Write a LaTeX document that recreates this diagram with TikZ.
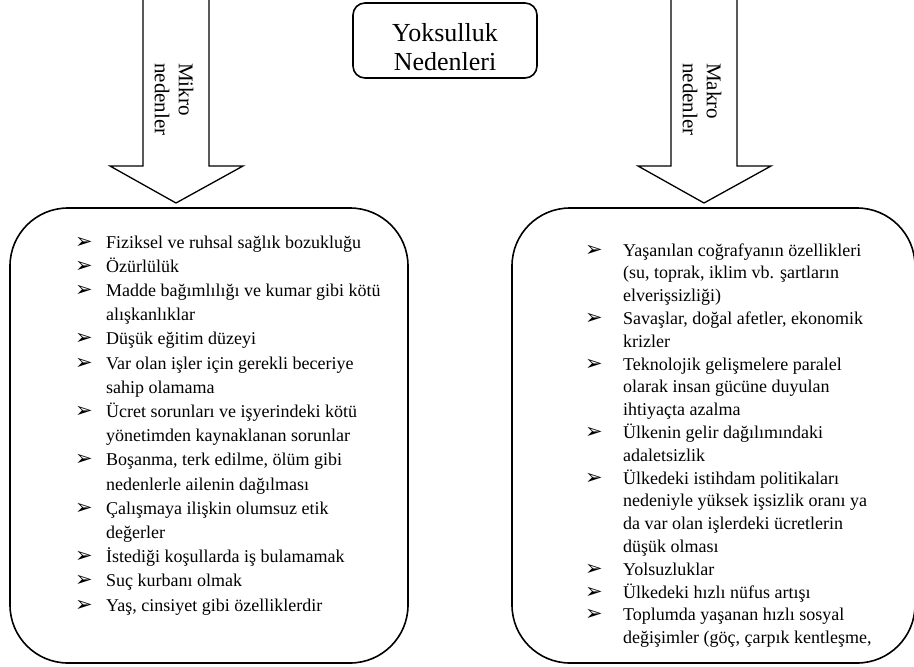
\documentclass[tikz,border=0pt]{standalone}
\usepackage{fontspec}
\setmainfont{Liberation Serif}
\newfontfamily\bulfont{DejaVu Sans}
\newcommand\mybul{{\bulfont\fontsize{21}{21}\selectfont ➢}}
\begin{document}
\begin{tikzpicture}[x=1pt,y=-1pt,
  bigbox/.style={draw, line width=1.6pt, rounded corners=58pt, rectangle, inner sep=0pt},
  titlebox/.style={draw, line width=1.6pt, rounded corners=12pt, rectangle,
    minimum width=184pt, minimum height=75pt, inner sep=0pt},
  titletext/.style={align=center, inner sep=0pt, font=\fontsize{26}{29}\selectfont},
  arr/.style={draw, line width=1.3pt, fill=white, line join=miter},
  arrtext/.style={rotate=-90, anchor=west, align=left, inner sep=0pt, font=\fontsize{21}{24}\selectfont},
  lstL/.style={inner sep=0pt, anchor=base west, font=\fontsize{18}{24.2}\selectfont},
  lstR/.style={inner sep=0pt, anchor=base west, font=\fontsize{18}{22.8}\selectfont},
]
\useasboundingbox (0,0) rectangle (914,667);
\fill[white] (0,0) rectangle (914,667);

% title
\node[titlebox] (title) at (445,40.5) {};
\node[titletext] (titlelabel) at (445,46.7) {Yoksulluk\\Nedenleri};

% arrows
\draw[arr] (143,-3) -- (143,166) -- (110,166) -- (176,203) -- (243,166) -- (209,166) -- (209,-3);
\draw[arr] (671,-3) -- (671,166) -- (638,166) -- (704,203) -- (771,166) -- (737,166) -- (737,-3);
\node[arrtext] (mikro) at (174,63) {Mikro\\nedenler};
\node[arrtext] (makro) at (702,63) {Makro\\nedenler};

% boxes
\node[bigbox, minimum width=398pt, minimum height=455pt] (leftbox) at (209,435.5) {};
\node[bigbox, minimum width=403pt, minimum height=455pt] (rightbox) at (713.5,435.5) {};

% left list
\node[lstL] (leftlist) at (75,248) {\begin{tabular}[t]{@{}p{31pt}@{}l@{}}
\mybul & Fiziksel ve ruhsal sağlık bozukluğu\\
\mybul & Özürlülük\\
\mybul & Madde bağımlılığı ve kumar gibi kötü\\
 & alışkanlıklar\\
\mybul & Düşük eğitim düzeyi\\
\mybul & Var olan işler için gerekli beceriye\\
 & sahip olamama\\
\mybul & Ücret sorunları ve işyerindeki kötü\\
 & yönetimden kaynaklanan sorunlar\\
\mybul & Boşanma, terk edilme, ölüm gibi\\
 & nedenlerle ailenin dağılması\\
\mybul & Çalışmaya ilişkin olumsuz etik\\
 & değerler\\
\mybul & İstediği koşullarda iş bulamamak\\
\mybul & Suç kurbanı olmak\\
\mybul & Yaş, cinsiyet gibi özelliklerdir
\end{tabular}};

% right list
\node[lstR] (rightlist) at (585,256) {\begin{tabular}[t]{@{}p{38pt}@{}l@{}}
\mybul & Yaşanılan coğrafyanın özellikleri\\
 & (su, toprak, iklim vb. şartların\\
 & elverişsizliği)\\
\mybul & Savaşlar, doğal afetler, ekonomik\\
 & krizler\\
\mybul & Teknolojik gelişmelere paralel\\
 & olarak insan gücüne duyulan\\
 & ihtiyaçta azalma\\
\mybul & Ülkenin gelir dağılımındaki\\
 & adaletsizlik\\
\mybul & Ülkedeki istihdam politikaları\\
 & nedeniyle yüksek işsizlik oranı ya\\
 & da var olan işlerdeki ücretlerin\\
 & düşük olması\\
\mybul & Yolsuzluklar\\
\mybul & Ülkedeki hızlı nüfus artışı\\
\mybul & Toplumda yaşanan hızlı sosyal\\
 & değişimler (göç, çarpık kentleşme,
\end{tabular}};
\end{tikzpicture}
\end{document}
